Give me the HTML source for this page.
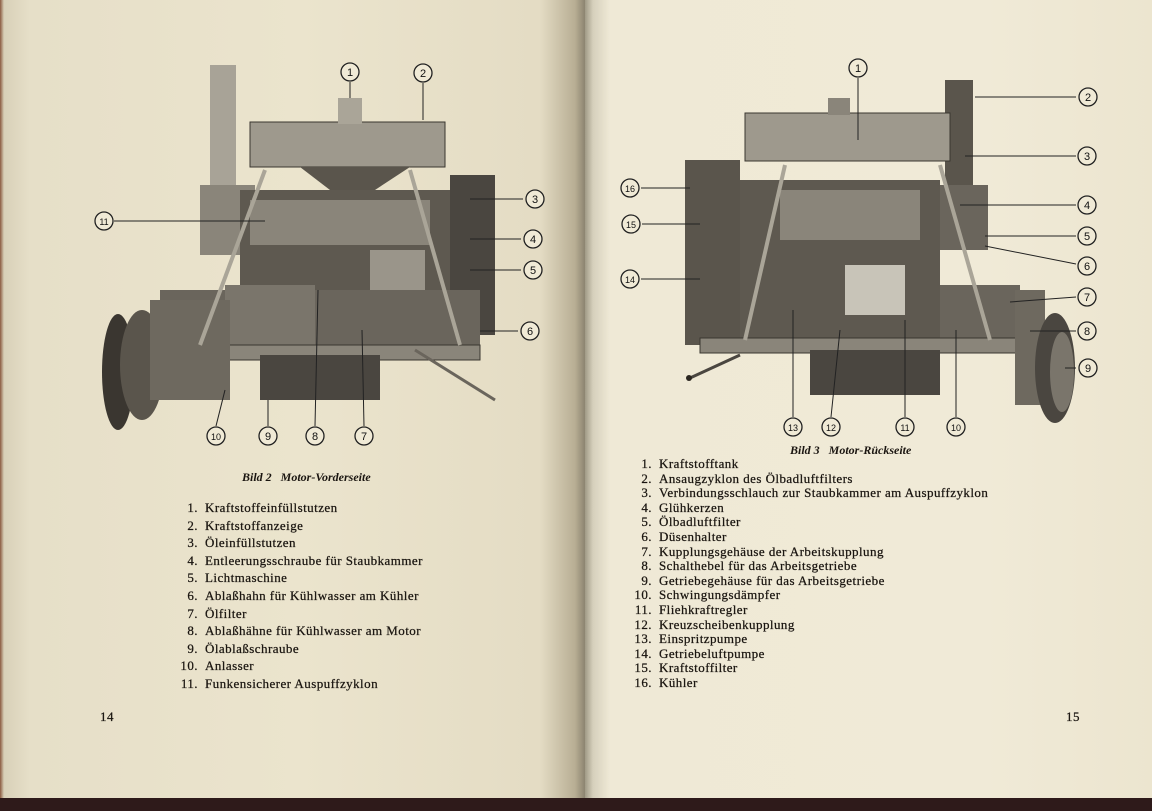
<!DOCTYPE html>
<html><head><meta charset="utf-8"><style>
body{margin:0;width:1152px;height:811px;overflow:hidden;background:#ece5cf;position:relative;font-family:"Liberation Serif",serif;color:#1a1510}
.pg{position:absolute;top:0;height:800px}
.t{position:absolute;font-size:13px;white-space:nowrap;letter-spacing:0.45px;-webkit-text-stroke:0.25px #1a1510}
.n{display:inline-block;text-align:right;width:22px;margin-right:7px}
.cap{position:absolute;font-style:italic;font-weight:bold;font-size:12px;white-space:nowrap}
</style></head><body>
<div class="pg" style="left:0;width:585px;background:linear-gradient(90deg,#8a5a40 0,#d8d0b8 4px,#e6dfc8 30px,#ebe4cd 300px,#e4dcc4 540px,#b8ae94 575px,#8c8470 585px)"></div>
<div class="pg" style="left:585px;width:567px;background:linear-gradient(90deg,#a09a86 0,#d6d0bc 8px,#efe9d6 25px,#f0ead7 400px,#ece5cf 567px)"></div>
<div style="position:absolute;left:0;top:798px;width:1152px;height:13px;background:#2e1a1a"></div>

<svg width="1152" height="811" style="position:absolute;left:0;top:0">
<!-- Left engine -->
<g>
<rect x="210" y="65" width="26" height="120" fill="#a8a397"/>
<rect x="200" y="185" width="55" height="70" fill="#8a857a"/>
<rect x="250" y="122" width="195" height="45" fill="#9e998d" stroke="#3a3630"/>
<rect x="338" y="98" width="24" height="26" fill="#aaa598"/>
<polygon points="300,167 410,167 375,190 330,190" fill="#5a554c"/>
<rect x="240" y="190" width="210" height="170" fill="#5e5950"/>
<rect x="250" y="200" width="180" height="45" fill="#8a857a"/>
<rect x="370" y="250" width="55" height="45" fill="#9a958a"/>
<rect x="450" y="175" width="45" height="160" fill="#4a4640"/>
<rect x="160" y="290" width="320" height="60" fill="#6a655c"/>
<rect x="225" y="285" width="90" height="60" fill="#7a756b"/>
<rect x="140" y="345" width="340" height="15" fill="#8a857a" stroke="#3a3630"/>
<rect x="260" y="355" width="120" height="45" fill="#4a4640"/>
<ellipse cx="118" cy="372" rx="16" ry="58" fill="#3a3630"/>
<ellipse cx="142" cy="365" rx="22" ry="55" fill="#5a554c"/>
<rect x="150" y="300" width="80" height="100" fill="#6e695f"/>
<line x1="200" y1="345" x2="265" y2="170" stroke="#aaa598" stroke-width="4"/>
<line x1="460" y1="345" x2="410" y2="170" stroke="#aaa598" stroke-width="4"/>
<line x1="415" y1="350" x2="495" y2="400" stroke="#6a655c" stroke-width="3"/>
</g>
<!-- Right engine -->
<g>
<rect x="945" y="80" width="28" height="105" fill="#5a554c"/>
<rect x="938" y="185" width="50" height="65" fill="#6a655c"/>
<rect x="745" y="113" width="205" height="48" fill="#9e998d" stroke="#3a3630"/>
<rect x="828" y="98" width="22" height="17" fill="#8a857a"/>
<rect x="685" y="160" width="55" height="185" fill="#5a554c"/>
<rect x="740" y="180" width="200" height="170" fill="#5e5950"/>
<rect x="780" y="190" width="140" height="50" fill="#8a857a"/>
<rect x="845" y="265" width="60" height="50" fill="#c8c4b8"/>
<rect x="940" y="285" width="80" height="60" fill="#6a655c"/>
<rect x="700" y="338" width="330" height="15" fill="#8a857a" stroke="#3a3630"/>
<rect x="810" y="350" width="130" height="45" fill="#4a4640"/>
<rect x="1015" y="290" width="30" height="115" fill="#6e695f"/>
<ellipse cx="1055" cy="368" rx="20" ry="55" fill="#4a4640"/>
<ellipse cx="1062" cy="372" rx="12" ry="40" fill="#7a756b"/>
<line x1="745" y1="340" x2="785" y2="165" stroke="#aaa598" stroke-width="4"/>
<line x1="990" y1="340" x2="940" y2="165" stroke="#aaa598" stroke-width="4"/>
<line x1="690" y1="378" x2="740" y2="355" stroke="#4a4640" stroke-width="3"/>
<circle cx="689" cy="378" r="3" fill="#2a2620"/>
</g>
<g stroke="#222" stroke-width="1" fill="none">
<line x1="114" y1="221" x2="265" y2="221"/><line x1="523" y1="199" x2="470" y2="199"/><line x1="521" y1="239" x2="470" y2="239"/><line x1="521" y1="270" x2="470" y2="270"/><line x1="518" y1="331" x2="480" y2="331"/>
<line x1="216" y1="426" x2="225" y2="390"/><line x1="268" y1="426" x2="268" y2="400"/><line x1="315" y1="426" x2="318" y2="290"/><line x1="364" y1="426" x2="362" y2="330"/>
<line x1="350" y1="82" x2="350" y2="98"/><line x1="423" y1="83" x2="423" y2="120"/>
<line x1="858" y1="78" x2="858" y2="140"/><line x1="1076" y1="97" x2="975" y2="97"/><line x1="1076" y1="156" x2="965" y2="156"/><line x1="1076" y1="205" x2="960" y2="205"/><line x1="1076" y1="236" x2="985" y2="236"/><line x1="1076" y1="264" x2="985" y2="246"/><line x1="1076" y1="297" x2="1010" y2="302"/><line x1="1076" y1="331" x2="1030" y2="331"/><line x1="1076" y1="368" x2="1065" y2="368"/>
<line x1="641" y1="188" x2="690" y2="188"/><line x1="642" y1="224" x2="700" y2="224"/><line x1="641" y1="279" x2="700" y2="279"/>
<line x1="793" y1="417" x2="793" y2="310"/><line x1="831" y1="417" x2="840" y2="330"/><line x1="905" y1="417" x2="905" y2="320"/><line x1="956" y1="417" x2="956" y2="330"/>
</g>
<g fill="#f0ead6" stroke="#222" stroke-width="1.3">
<circle cx="350" cy="72" r="9"/><circle cx="423" cy="73" r="9"/><circle cx="535" cy="199" r="9"/><circle cx="533" cy="239" r="9"/><circle cx="533" cy="270" r="9"/><circle cx="530" cy="331" r="9"/><circle cx="104" cy="221" r="9"/><circle cx="216" cy="436" r="9"/><circle cx="268" cy="436" r="9"/><circle cx="315" cy="436" r="9"/><circle cx="364" cy="436" r="9"/>
<circle cx="858" cy="68" r="9"/><circle cx="1088" cy="97" r="9"/><circle cx="1087" cy="156" r="9"/><circle cx="1087" cy="205" r="9"/><circle cx="1087" cy="236" r="9"/><circle cx="1087" cy="266" r="9"/><circle cx="1087" cy="297" r="9"/><circle cx="1087" cy="331" r="9"/><circle cx="1088" cy="368" r="9"/><circle cx="630" cy="188" r="9"/><circle cx="631" cy="224" r="9"/><circle cx="630" cy="279" r="9"/><circle cx="793" cy="427" r="9"/><circle cx="831" cy="427" r="9"/><circle cx="905" cy="427" r="9"/><circle cx="956" cy="427" r="9"/>
</g>
<g font-family="Liberation Sans,sans-serif" font-size="11" fill="#111" text-anchor="middle">
<text x="350" y="76">1</text><text x="423" y="77">2</text><text x="535" y="203">3</text><text x="533" y="243">4</text><text x="533" y="274">5</text><text x="530" y="335">6</text><text x="104" y="225" font-size="9">11</text><text x="216" y="440" font-size="9">10</text><text x="268" y="440">9</text><text x="315" y="440">8</text><text x="364" y="440">7</text>
<text x="858" y="72">1</text><text x="1088" y="101">2</text><text x="1087" y="160">3</text><text x="1087" y="209">4</text><text x="1087" y="240">5</text><text x="1087" y="270">6</text><text x="1087" y="301">7</text><text x="1087" y="335">8</text><text x="1088" y="372">9</text><text x="630" y="192" font-size="9">16</text><text x="631" y="228" font-size="9">15</text><text x="630" y="283" font-size="9">14</text><text x="793" y="431" font-size="9">13</text><text x="831" y="431" font-size="9">12</text><text x="905" y="431" font-size="9">11</text><text x="956" y="431" font-size="9">10</text>
</g>
</svg>

<div class="cap" style="left:242px;top:470px">Bild 2 &nbsp; Motor-Vorderseite</div>
<div class="cap" style="left:790px;top:443px">Bild 3 &nbsp; Motor-Rückseite</div>

<div class="t" style="left:176px;top:499px;line-height:17.6px">
<div><span class="n">1.</span>Kraftstoffeinfüllstutzen</div>
<div><span class="n">2.</span>Kraftstoffanzeige</div>
<div><span class="n">3.</span>Öleinfüllstutzen</div>
<div><span class="n">4.</span>Entleerungsschraube für Staubkammer</div>
<div><span class="n">5.</span>Lichtmaschine</div>
<div><span class="n">6.</span>Ablaßhahn für Kühlwasser am Kühler</div>
<div><span class="n">7.</span>Ölfilter</div>
<div><span class="n">8.</span>Ablaßhähne für Kühlwasser am Motor</div>
<div><span class="n">9.</span>Ölablaßschraube</div>
<div><span class="n">10.</span>Anlasser</div>
<div><span class="n">11.</span>Funkensicherer Auspuffzyklon</div>
</div>
<div class="t" style="left:630px;top:457px;line-height:14.6px">
<div><span class="n">1.</span>Kraftstofftank</div>
<div><span class="n">2.</span>Ansaugzyklon des Ölbadluftfilters</div>
<div><span class="n">3.</span>Verbindungsschlauch zur Staubkammer am Auspuffzyklon</div>
<div><span class="n">4.</span>Glühkerzen</div>
<div><span class="n">5.</span>Ölbadluftfilter</div>
<div><span class="n">6.</span>Düsenhalter</div>
<div><span class="n">7.</span>Kupplungsgehäuse der Arbeitskupplung</div>
<div><span class="n">8.</span>Schalthebel für das Arbeitsgetriebe</div>
<div><span class="n">9.</span>Getriebegehäuse für das Arbeitsgetriebe</div>
<div><span class="n">10.</span>Schwingungsdämpfer</div>
<div><span class="n">11.</span>Fliehkraftregler</div>
<div><span class="n">12.</span>Kreuzscheibenkupplung</div>
<div><span class="n">13.</span>Einspritzpumpe</div>
<div><span class="n">14.</span>Getriebeluftpumpe</div>
<div><span class="n">15.</span>Kraftstoffilter</div>
<div><span class="n">16.</span>Kühler</div>
</div>
<div class="t" style="left:100px;top:709px">14</div>
<div class="t" style="left:1066px;top:709px">15</div>
</body></html>
